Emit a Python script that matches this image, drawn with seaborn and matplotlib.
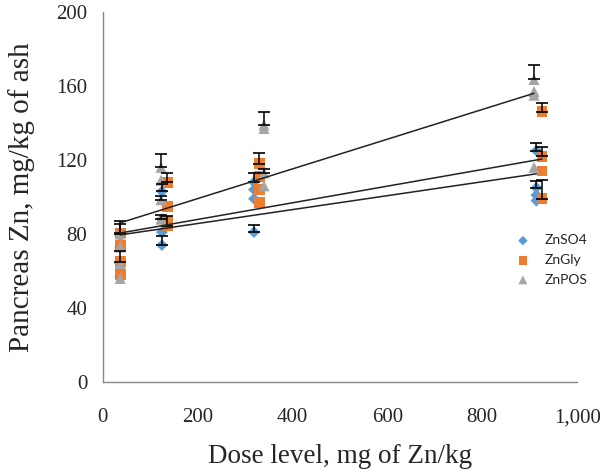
import pandas as pd
import matplotlib
matplotlib.use("Agg")
import matplotlib.pyplot as plt
import seaborn as sns

# dose levels (mg Zn/kg) per source
so4_dose = [37, 125, 319, 914]
gly_dose = [37, 136, 330, 926]
pos_dose = [37, 123, 340, 909]

# pancreas Zn replicates at each dose (mg/kg of ash)
so4_vals = [[79, 73, 64, 57], [103, 88, 81, 74], [108, 104, 99, 81], [125, 105, 101, 98]]
gly_vals = [[80.5, 74, 65, 58], [108, 95, 87, 84.5], [118, 111, 104, 97], [146, 122, 114, 99]]
pos_vals = [[80, 73, 64, 56], [116, 109, 98.5, 88], [139, 137, 113, 106], [163.5, 157, 155, 116]]

# upper error bars (0 = none drawn)
so4_err = [[0, 0, 0, 0], [4, 0, 0, 5], [5, 0, 0, 4], [4, 3.5, 0, 0]]
gly_err = [[5, 0, 6, 0], [5, 0, 0, 5], [6, 0, 0, 0], [5, 5, 0, 10]]
pos_err = [[7, 0, 0, 0], [7, 0, 2, 2], [7, 0, 2, 0], [8, 0, 0, 0]]

# linear trend lines (value at first and last dose)
so4_trend = [79.5, 112.5]
gly_trend = [80.5, 120.5]
pos_trend = [86, 156]

sources = ["ZnSO4", "ZnGly", "ZnPOS"]
colors = {"ZnSO4": "#5B9BD5", "ZnGly": "#ED7D31", "ZnPOS": "#A5A5A5"}
markers = {"ZnSO4": "D", "ZnGly": "s", "ZnPOS": "^"}
sizes = {"ZnSO4": 36, "ZnGly": 60, "ZnPOS": 64}

rows = []
for src, doses, vals, errs in [("ZnSO4", so4_dose, so4_vals, so4_err),
                               ("ZnGly", gly_dose, gly_vals, gly_err),
                               ("ZnPOS", pos_dose, pos_vals, pos_err)]:
    for d, vs, es in zip(doses, vals, errs):
        for v, e in zip(vs, es):
            rows.append({"source": src, "dose": d, "zn": v, "err": e})
df = pd.DataFrame(rows)

sns.set_style("white")
fig = plt.figure(figsize=(6, 4.74), dpi=100)
ax = fig.add_axes([0.171, 0.194, 0.791, 0.781])

for src in sources:
    sub = df[df["source"] == src]
    sns.scatterplot(data=sub, x="dose", y="zn", color=colors[src], marker=markers[src],
                    s=sizes[src], edgecolor="none", ax=ax, label=src, zorder=2)

for src in sources:
    sub = df[(df["source"] == src) & (df["err"] > 0)]
    ax.errorbar(sub["dose"], sub["zn"], yerr=[[0] * len(sub), sub["err"]], fmt="none",
                ecolor="black", elinewidth=1.1, capsize=4, capthick=1.2, zorder=3)

for src, doses, trend in [("ZnSO4", so4_dose, so4_trend),
                          ("ZnGly", gly_dose, gly_trend),
                          ("ZnPOS", pos_dose, pos_trend)]:
    ax.plot([doses[0], doses[-1]], trend, color="#222222", lw=1.1, zorder=4)

ax.set_xlim(0, 1000)
ax.set_ylim(0, 200)
ax.set_xticks([0, 200, 400, 600, 800, 1000])
ax.set_xticklabels(["0", "200", "400", "600", "800", "1,000"])
ax.set_yticks([0, 40, 80, 120, 160, 200])

sns.despine(ax=ax)
for sp in ["left", "bottom"]:
    ax.spines[sp].set_color("#868686")
    ax.spines[sp].set_linewidth(1.0)
ax.tick_params(axis="both", direction="out", length=5, width=1, color="#868686",
               labelsize=15)
ax.tick_params(axis="x", pad=14)
ax.tick_params(axis="y", pad=6)
for lab in ax.get_xticklabels() + ax.get_yticklabels():
    lab.set_family("Liberation Serif")

ax.set_xlabel("Dose level, mg of Zn/kg", family="Liberation Serif", fontsize=19.5, labelpad=12)
ax.set_ylabel("Pancreas Zn, mg/kg of ash", family="Liberation Serif", fontsize=21, labelpad=15)

leg = ax.legend(loc="center left", bbox_to_anchor=(0.83, 0.33), frameon=False,
                prop={"family": "Lato", "size": 10}, handletextpad=0.6, labelspacing=0.55,
                markerscale=0.8)

fig.savefig("out.png", dpi=100)
